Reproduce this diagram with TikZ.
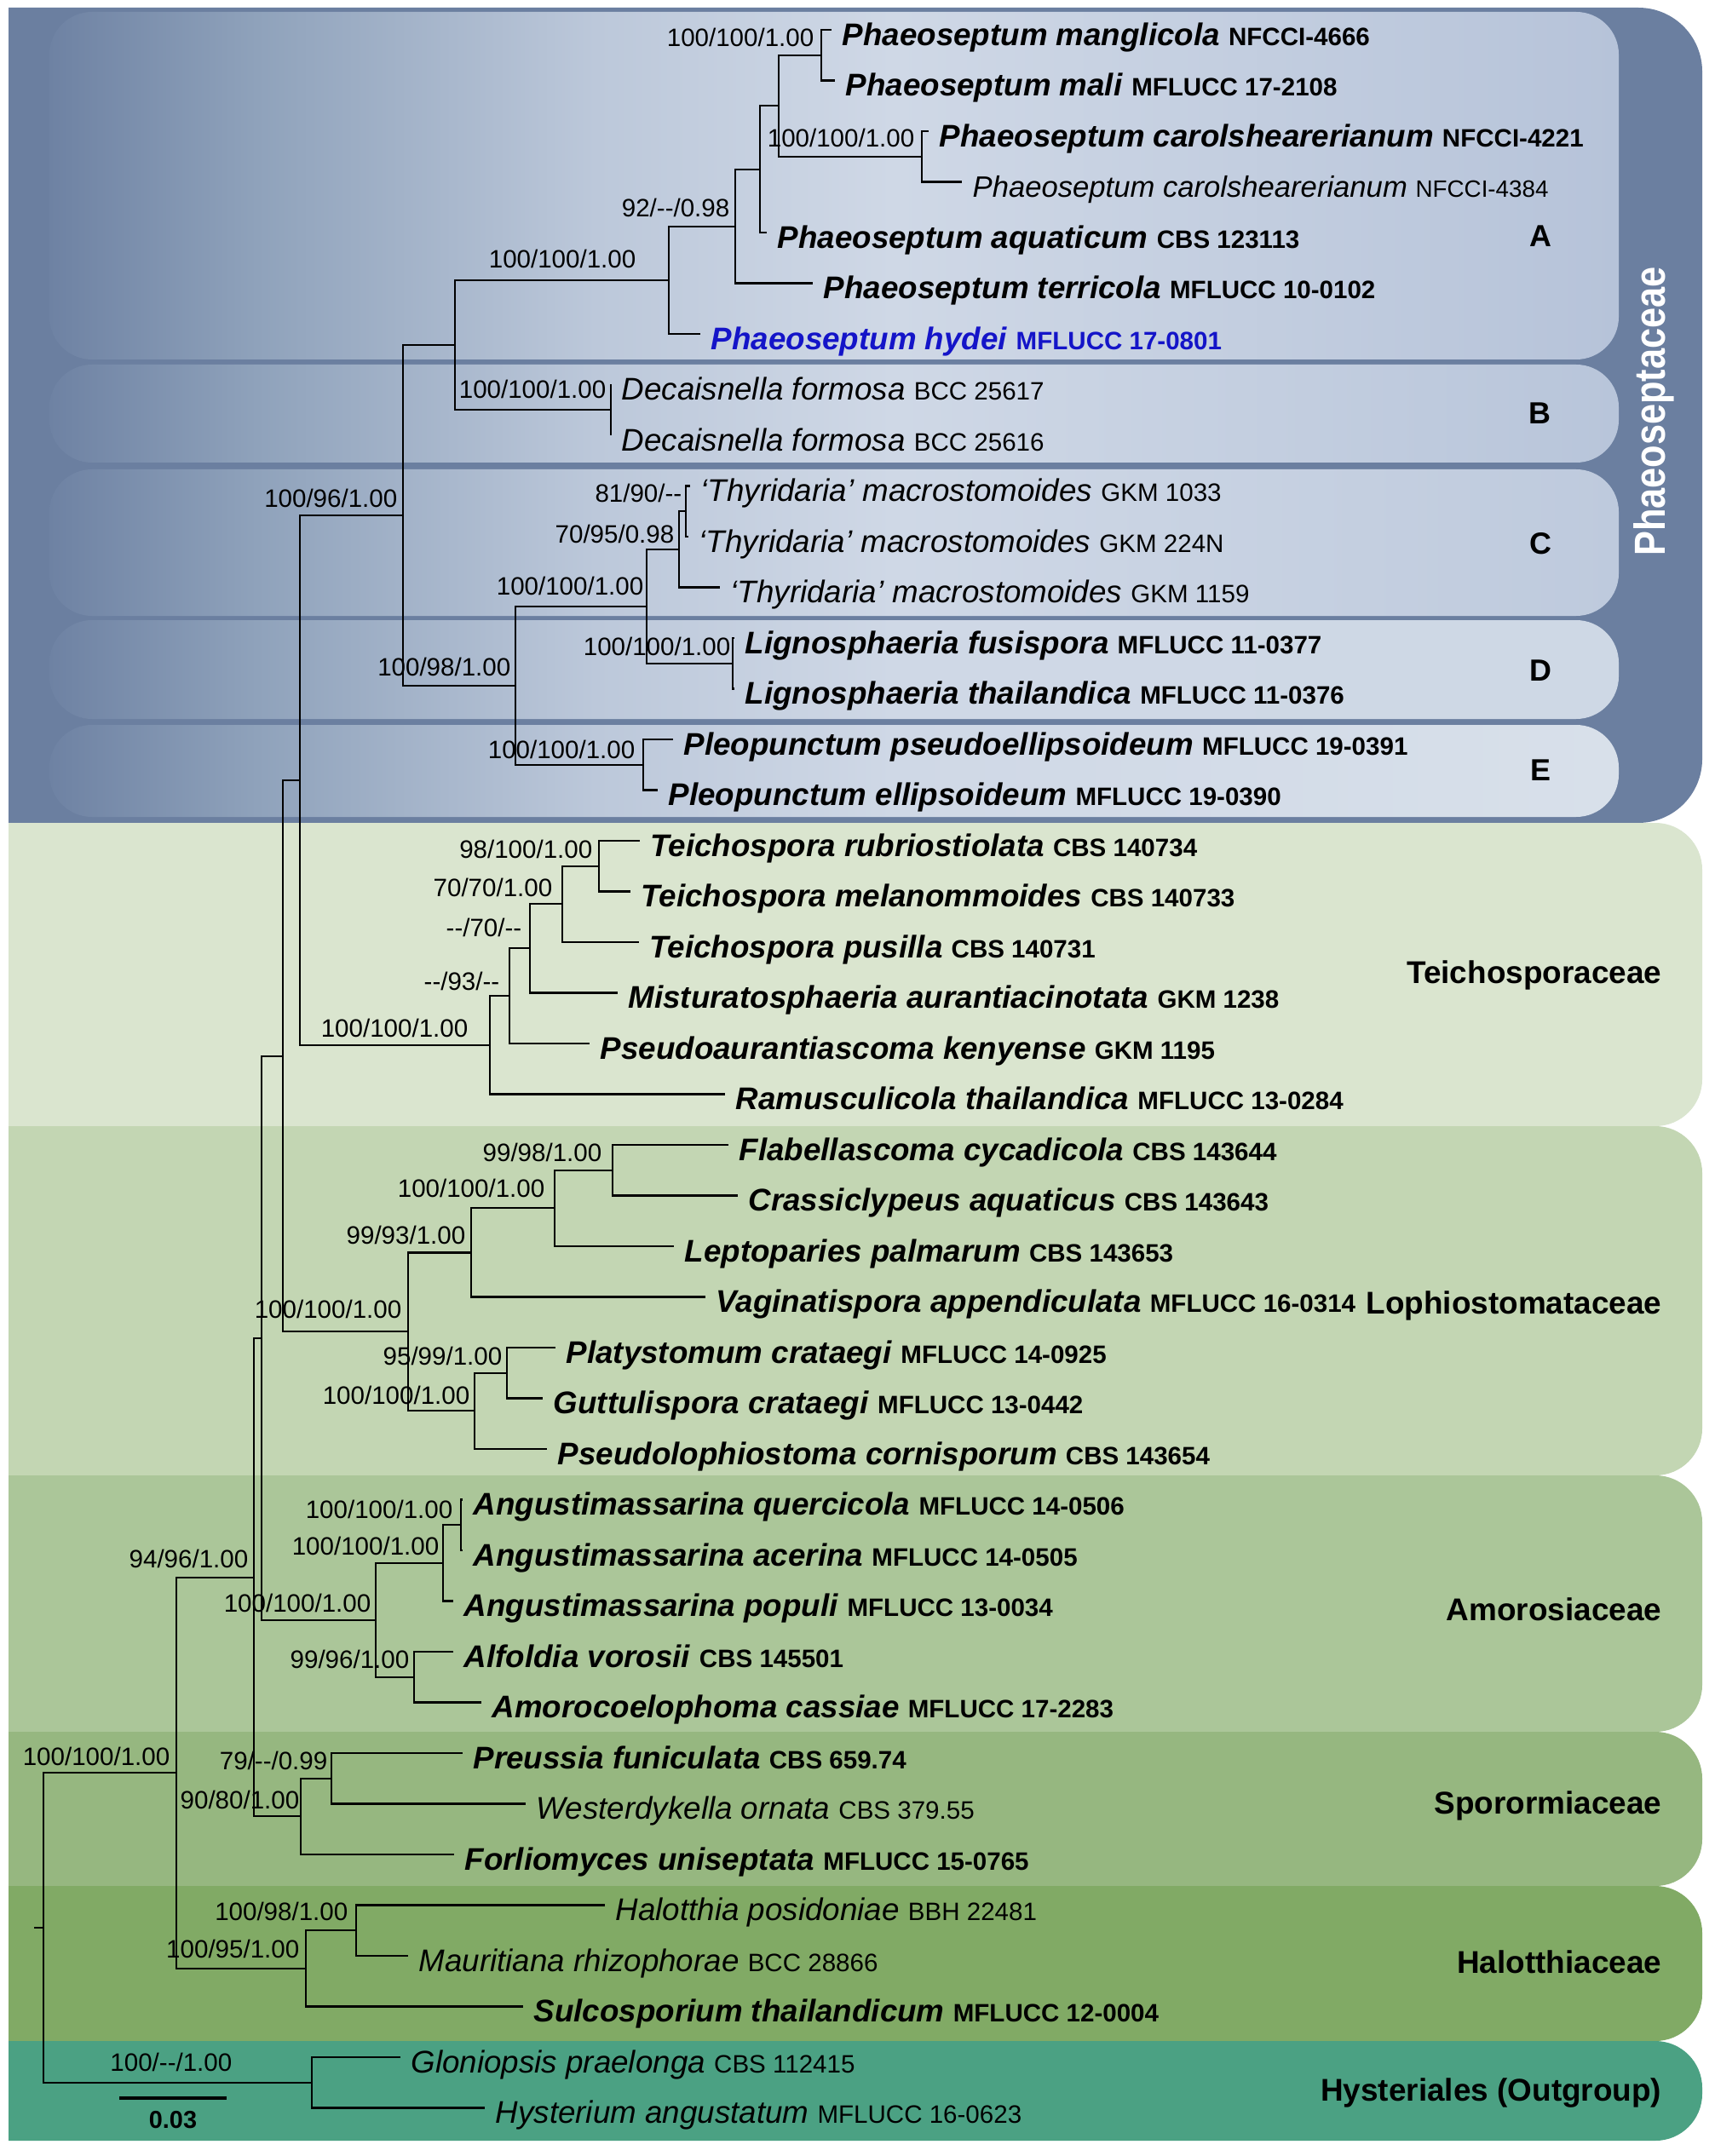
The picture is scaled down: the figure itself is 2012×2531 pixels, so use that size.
\documentclass[tikz,border=0pt]{standalone}
\usepackage{fontspec}
\setmainfont{Liberation Sans}
\usepackage{graphicx}
\definecolor{phdark}{HTML}{6B7FA0}
\definecolor{phleft}{HTML}{6E82A3}
\definecolor{phquart}{HTML}{8FA2BB}
\definecolor{phmid}{HTML}{BCC8DA}
\definecolor{phlite}{HTML}{CFD8E6}
\colorlet{phright}{phlite}
\definecolor{teich}{HTML}{DAE5CF}
\definecolor{loph}{HTML}{C3D6B3}
\definecolor{amor}{HTML}{ABC699}
\definecolor{spor}{HTML}{96B780}
\definecolor{halo}{HTML}{81AA65}
\definecolor{outg}{HTML}{4BA183}
\definecolor{hydeiblue}{RGB}{20,20,200}
\pgfdeclarehorizontalshading[phright]{phgrad}{100bp}{color(0bp)=(phleft); color(25bp)=(phleft); color(31.6bp)=(phquart); color(42.4bp)=(phmid); color(51.9bp)=(phlite); color(75bp)=(phright); color(100bp)=(phright)}
\newcommand{\strain}[1]{{\fontsize{8.4}{10}\selectfont #1}}
\newcommand{\taxb}[2]{\textbf{\textit{#1}}\ \strain{\bfseries #2}}
\newcommand{\taxn}[2]{\textit{#1}\ \strain{#2}}
\newcommand{\nd}{\mbox{-}\mbox{-}}
\tikzset{
  twig/.style     ={draw=black, line width=0.6pt},
  taxon/.style    ={anchor=west, inner xsep=0.12cm, inner ysep=0pt, text height=0.36cm, text depth=0pt, font=\fontsize{10.45}{12}\selectfont},
  supp/.style     ={anchor=base east, inner sep=0pt, font=\fontsize{8.4}{10}\selectfont},
  famlab/.style   ={anchor=east, inner sep=0pt, text height=0.26cm, text depth=0pt, font=\bfseries\fontsize{10.5}{12}\selectfont},
  cladelab/.style ={inner sep=0pt, text height=0.26cm, text depth=0pt, font=\bfseries\fontsize{10.2}{12}\selectfont},
  cladebox/.style ={rounded corners=0.5cm, shading=phgrad},
}

\begin{document}
\begin{tikzpicture}[x=0.01cm, y=-0.01cm]
  \useasboundingbox (0,0) rectangle (2012,2531);

  % family blocks, rounded on the right only
  \begin{scope}
    \clip (10,0) rectangle (2012,2531);
    \fill[phdark, rounded corners=0.75cm] (-200,9)    rectangle (1998,966);
    \fill[teich,  rounded corners=0.55cm] (-200,966)  rectangle (1998,1322);
    \fill[loph,   rounded corners=0.55cm] (-200,1322) rectangle (1998,1732);
    \fill[amor,   rounded corners=0.55cm] (-200,1732) rectangle (1998,2033);
    \fill[spor,   rounded corners=0.55cm] (-200,2033) rectangle (1998,2214);
    \fill[halo,   rounded corners=0.55cm] (-200,2214) rectangle (1998,2396);
    \fill[outg,   rounded corners=0.55cm] (-200,2396) rectangle (1998,2513);
  \end{scope}

  % clade boxes A-E
  \colorlet{phright}{rgb,255:red,182;green,195;blue,217}
  \shade[cladebox] (58,14)  rectangle (1900,422);
  \colorlet{phright}{rgb,255:red,184;green,197;blue,218}
  \shade[cladebox] (58,428) rectangle (1900,543);
  \colorlet{phright}{rgb,255:red,190;green,202;blue,221}
  \shade[cladebox] (58,551) rectangle (1900,723);
  \colorlet{phright}{rgb,255:red,206;green,216;blue,229}
  \shade[cladebox] (58,728) rectangle (1900,844);
  \colorlet{phright}{rgb,255:red,216;green,224;blue,234}
  \shade[cladebox] (58,851) rectangle (1900,959);

  % internal nodes
  \coordinate (ph1) at (964,64.75);
  \coordinate (ph2) at (1082,183.75);
  \coordinate (ph3) at (914,124.25);
  \coordinate (ph4) at (892,198.6);
  \coordinate (ph5) at (863,265.6);
  \coordinate (cladeA) at (785,328.8);
  \coordinate (cladeB) at (717,481.25);
  \coordinate (cladeAB) at (534,405);
  \coordinate (th1) at (805,600.25);
  \coordinate (cladeC) at (797,644.9);
  \coordinate (cladeD) at (860,778.75);
  \coordinate (cladeCD) at (759,711.8);
  \coordinate (cladeE) at (755,897.75);
  \coordinate (cladeCDE) at (605,804.8);
  \coordinate (phaeo) at (473,604.9);
  \coordinate (te1) at (703,1016.75);
  \coordinate (te2) at (660,1061.4);
  \coordinate (te3) at (622,1113.4);
  \coordinate (te4) at (598,1169.2);
  \coordinate (teich) at (575,1226.9);
  \coordinate (phte) at (352,915.9);
  \coordinate (lo1) at (719,1373.75);
  \coordinate (lo2) at (651,1418.4);
  \coordinate (lo3) at (553,1470.5);
  \coordinate (lo4) at (595,1611.75);
  \coordinate (lo5) at (557,1656.4);
  \coordinate (loph) at (479,1563.4);
  \coordinate (phlo) at (332,1239.7);
  \coordinate (am1) at (541,1790.25);
  \coordinate (am2) at (520,1834.9);
  \coordinate (am3) at (486,1968.75);
  \coordinate (amor) at (441,1901.8);
  \coordinate (pham) at (307,1570.8);
  \coordinate (sp1) at (389,2087.75);
  \coordinate (spor) at (353,2132.4);
  \coordinate (phsp) at (298,1851.6);
  \coordinate (ha1) at (418,2266.25);
  \coordinate (halo) at (359,2310.9);
  \coordinate (ingr) at (207,2081.25);
  \coordinate (outg) at (366,2444.75);
  \coordinate (root) at (51,2263);
  \coordinate (rootend) at (40,2263);

  % taxa
  \node[taxon] (mang) at (976,35)     {\taxb{Phaeoseptum manglicola}{NFCCI-4666}};
  \node[taxon] (mali) at (980,94.5)   {\taxb{Phaeoseptum mali}{MFLUCC 17-2108}};
  \node[taxon] (car1) at (1090,154)   {\taxb{Phaeoseptum carolshearerianum}{NFCCI-4221}};
  \node[taxon, font=\fontsize{9.85}{12}\selectfont] (car2) at (1129,213.5) {\textit{Phaeoseptum carolshearerianum}\ {\fontsize{7.9}{10}\selectfont NFCCI-4384}};
  \node[taxon] (aqua) at (900,273)    {\taxb{Phaeoseptum aquaticum}{CBS 123113}};
  \node[taxon] (terr) at (954,332.5)  {\taxb{Phaeoseptum terricola}{MFLUCC 10-0102}};
  \node[taxon, text=hydeiblue] (hyde) at (822,392) {\taxb{Phaeoseptum hydei}{MFLUCC 17-0801}};
  \node[taxon] (dec1) at (717,451.5)  {\taxn{Decaisnella formosa}{BCC 25617}};
  \node[taxon] (dec2) at (717,511)    {\taxn{Decaisnella formosa}{BCC 25616}};
  \node[taxon] (thy1) at (810,570.5)  {\taxn{‘Thyridaria’ macrostomoides}{GKM 1033}};
  \node[taxon] (thy2) at (808,630)    {\taxn{‘Thyridaria’ macrostomoides}{GKM 224N}};
  \node[taxon] (thy3) at (845,689.5)  {\taxn{‘Thyridaria’ macrostomoides}{GKM 1159}};
  \node[taxon] (lig1) at (862,749)    {\taxb{Lignosphaeria fusispora}{MFLUCC 11-0377}};
  \node[taxon] (lig2) at (862,808.5)  {\taxb{Lignosphaeria thailandica}{MFLUCC 11-0376}};
  \node[taxon] (ple1) at (790,868)    {\taxb{Pleopunctum pseudoellipsoideum}{MFLUCC 19-0391}};
  \node[taxon] (ple2) at (772,927.5)  {\taxb{Pleopunctum ellipsoideum}{MFLUCC 19-0390}};
  \node[taxon] (tei1) at (751,987)    {\taxb{Teichospora rubriostiolata}{CBS 140734}};
  \node[taxon] (tei2) at (740,1046.5) {\taxb{Teichospora melanommoides}{CBS 140733}};
  \node[taxon] (tei3) at (750,1106)   {\taxb{Teichospora pusilla}{CBS 140731}};
  \node[taxon] (mist) at (725,1165.5) {\taxb{Misturatosphaeria aurantiacinotata}{GKM 1238}};
  \node[taxon] (psau) at (692,1225)   {\taxb{Pseudoaurantiascoma kenyense}{GKM 1195}};
  \node[taxon] (ramu) at (851,1284.5) {\taxb{Ramusculicola thailandica}{MFLUCC 13-0284}};
  \node[taxon] (flab) at (855,1344)   {\taxb{Flabellascoma cycadicola}{CBS 143644}};
  \node[taxon] (cras) at (866,1403.5) {\taxb{Crassiclypeus aquaticus}{CBS 143643}};
  \node[taxon] (lept) at (791,1463)   {\taxb{Leptoparies palmarum}{CBS 143653}};
  \node[taxon] (vagi) at (828,1522.5) {\taxb{Vaginatispora appendiculata}{MFLUCC 16-0314}};
  \node[taxon] (plat) at (652,1582)   {\taxb{Platystomum crataegi}{MFLUCC 14-0925}};
  \node[taxon] (gutt) at (637,1641.5) {\taxb{Guttulispora crataegi}{MFLUCC 13-0442}};
  \node[taxon] (pslo) at (642,1701)   {\taxb{Pseudolophiostoma cornisporum}{CBS 143654}};
  \node[taxon] (ang1) at (543,1760.5) {\taxb{Angustimassarina quercicola}{MFLUCC 14-0506}};
  \node[taxon] (ang2) at (543,1820)   {\taxb{Angustimassarina acerina}{MFLUCC 14-0505}};
  \node[taxon] (ang3) at (532,1879.5) {\taxb{Angustimassarina populi}{MFLUCC 13-0034}};
  \node[taxon] (alfo) at (532,1939)   {\taxb{Alfoldia vorosii}{CBS 145501}};
  \node[taxon] (amoc) at (565,1998.5) {\taxb{Amorocoelophoma cassiae}{MFLUCC 17-2283}};
  \node[taxon] (preu) at (543,2058)   {\taxb{Preussia funiculata}{CBS 659.74}};
  \node[taxon] (wes)  at (617,2117.5) {\taxn{Westerdykella ornata}{CBS 379.55}};
  \node[taxon] (forl) at (533,2177)   {\taxb{Forliomyces uniseptata}{MFLUCC 15-0765}};
  \node[taxon] (halt) at (710,2236.5) {\taxn{Halotthia posidoniae}{BBH 22481}};
  \node[taxon] (maur) at (479,2296)   {\taxn{Mauritiana rhizophorae}{BCC 28866}};
  \node[taxon] (sulc) at (614,2355.5) {\taxb{Sulcosporium thailandicum}{MFLUCC 12-0004}};
  \node[taxon] (glon) at (470,2415)   {\taxn{Gloniopsis praelonga}{CBS 112415}};
  \node[taxon] (hyst) at (569,2474.5) {\taxn{Hysterium angustatum}{MFLUCC 16-0623}};

  % branches
  \draw[twig] (mang.west) -| (ph1) |- (mali.west);
  \draw[twig] (car1.west) -| (ph2) |- (car2.west);
  \draw[twig] (ph1) -| (ph3) |- (ph2);
  \draw[twig] (ph3) -| (ph4) |- (aqua.west);
  \draw[twig] (ph4) -| (ph5) |- (terr.west);
  \draw[twig] (ph5) -| (cladeA) |- (hyde.west);
  \draw[twig] (dec1.west) -| (cladeB) |- (dec2.west);
  \draw[twig] (cladeA) -| (cladeAB) |- (cladeB);
  \draw[twig] (thy1.west) -| (th1) |- (thy2.west);
  \draw[twig] (th1) -| (cladeC) |- (thy3.west);
  \draw[twig] (lig1.west) -| (cladeD) |- (lig2.west);
  \draw[twig] (cladeC) -| (cladeCD) |- (cladeD);
  \draw[twig] (ple1.west) -| (cladeE) |- (ple2.west);
  \draw[twig] (cladeCD) -| (cladeCDE) |- (cladeE);
  \draw[twig] (cladeAB) -| (phaeo) |- (cladeCDE);
  \draw[twig] (tei1.west) -| (te1) |- (tei2.west);
  \draw[twig] (te1) -| (te2) |- (tei3.west);
  \draw[twig] (te2) -| (te3) |- (mist.west);
  \draw[twig] (te3) -| (te4) |- (psau.west);
  \draw[twig] (te4) -| (teich) |- (ramu.west);
  \draw[twig] (phaeo) -| (phte) |- (teich);
  \draw[twig] (flab.west) -| (lo1) |- (cras.west);
  \draw[twig] (lo1) -| (lo2) |- (lept.west);
  \draw[twig] (lo2) -| (lo3) |- (vagi.west);
  \draw[twig] (plat.west) -| (lo4) |- (gutt.west);
  \draw[twig] (lo4) -| (lo5) |- (pslo.west);
  \draw[twig] (lo3) -| (loph) |- (lo5);
  \draw[twig] (phte) -| (phlo) |- (loph);
  \draw[twig] (ang1.west) -| (am1) |- (ang2.west);
  \draw[twig] (am1) -| (am2) |- (ang3.west);
  \draw[twig] (alfo.west) -| (am3) |- (amoc.west);
  \draw[twig] (am2) -| (amor) |- (am3);
  \draw[twig] (phlo) -| (pham) |- (amor);
  \draw[twig] (preu.west) -| (sp1) |- (wes.west);
  \draw[twig] (sp1) -| (spor) |- (forl.west);
  \draw[twig] (pham) -| (phsp) |- (spor);
  \draw[twig] (halt.west) -| (ha1) |- (maur.west);
  \draw[twig] (ha1) -| (halo) |- (sulc.west);
  \draw[twig] (phsp) -| (ingr) |- (halo);
  \draw[twig] (glon.west) -| (outg) |- (hyst.west);
  \draw[twig] (ingr) -| (root) |- (outg);
  \draw[twig] (root) -- (rootend);

  % support values
  \node[supp] (sA1)  at (956,55)   {100/100/1.00};
  \node[supp] (sA2)  at (1074,173) {100/100/1.00};
  \node[supp] (sA3)  at (857,255)  {92/\nd/0.98};
  \node[supp] (sA)   at (747,315)  {100/100/1.00};
  \node[supp] (sB)   at (712,468)  {100/100/1.00};
  \node[supp] (sPh)  at (467,595)  {100/96/1.00};
  \node[supp] (sC1)  at (801,590)  {81/90/\nd};
  \node[supp] (sC)   at (792,637)  {70/95/0.98};
  \node[supp] (sCD)  at (756,698)  {100/100/1.00};
  \node[supp] (sD)   at (858,769)  {100/100/1.00};
  \node[supp] (sCDE) at (600,793)  {100/98/1.00};
  \node[supp] (sE)   at (746,890)  {100/100/1.00};
  \node[supp] (sT1)  at (696,1007) {98/100/1.00};
  \node[supp] (sT2)  at (649,1052) {70/70/1.00};
  \node[supp] (sT3)  at (613,1099) {\nd/70/\nd};
  \node[supp] (sT4)  at (587,1162) {\nd/93/\nd};
  \node[supp] (sT)   at (550,1217) {100/100/1.00};
  \node[supp] (sL1)  at (707,1363) {99/98/1.00};
  \node[supp] (sL2)  at (640,1405) {100/100/1.00};
  \node[supp] (sL3)  at (547,1460) {99/93/1.00};
  \node[supp] (sL)   at (472,1547) {100/100/1.00};
  \node[supp] (sL4)  at (590,1602) {95/99/1.00};
  \node[supp] (sL5)  at (552,1648) {100/100/1.00};
  \node[supp] (sM1)  at (532,1782) {100/100/1.00};
  \node[supp] (sM2)  at (516,1825) {100/100/1.00};
  \node[supp] (sM)   at (436,1892) {100/100/1.00};
  \node[supp] (sM3)  at (481,1958) {99/96/1.00};
  \node[supp] (sPS)  at (292,1840) {94/96/1.00};
  \node[supp] (sS1)  at (385,2077) {79/\nd/0.99};
  \node[supp] (sS)   at (352,2123) {90/80/1.00};
  \node[supp] (sIn)  at (200,2072) {100/100/1.00};
  \node[supp] (sH1)  at (409,2254) {100/98/1.00};
  \node[supp] (sH)   at (352,2298) {100/95/1.00};
  \node[supp] (sO)   at (273,2431) {100/\nd/1.00};

  % clade letters and family names
  \node[cladelab] (labA) at (1808,276) {A};
  \node[cladelab] (labB) at (1807,484) {B};
  \node[cladelab] (labC) at (1808,637) {C};
  \node[cladelab] (labD) at (1808,786) {D};
  \node[cladelab] (labE) at (1808,903) {E};
  \node[rotate=90, text=white, inner sep=0pt, font=\bfseries\fontsize{14.5}{16}\selectfont] (famP) at (1941,483) {\scalebox{0.85}[1]{Phaeoseptaceae}};
  \node[famlab] (famT) at (1951,1141) {Teichosporaceae};
  \node[famlab] (famL) at (1951,1529) {Lophiostomataceae};
  \node[famlab] (famA) at (1951,1889) {Amorosiaceae};
  \node[famlab] (famS) at (1951,2116) {Sporormiaceae};
  \node[famlab] (famH) at (1951,2303) {Halotthiaceae};
  \node[famlab] (famO) at (1951,2453) {Hysteriales (Outgroup)};

  % scale bar
  \coordinate (sb1) at (140,2463);
  \coordinate (sb2) at (266,2463);
  \draw[line width=1.3pt] (sb1) -- (sb2);
  \node[inner sep=0pt, font=\bfseries\fontsize{8.2}{9}\selectfont] (sbl) at (203,2489) {0.03};
\end{tikzpicture}
\end{document}
